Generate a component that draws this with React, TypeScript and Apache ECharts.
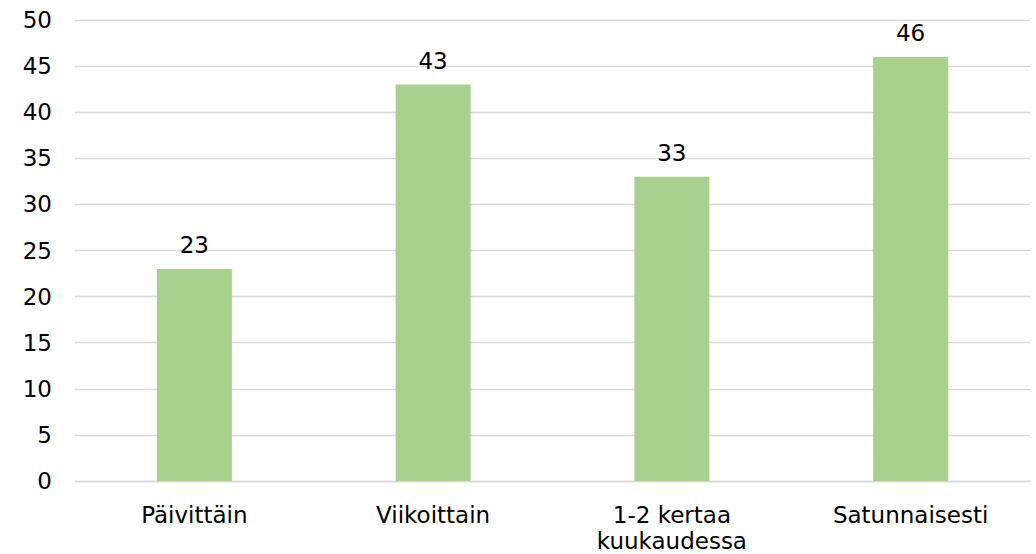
import React, { useEffect, useRef } from "react";
import * as echarts from "echarts";

const categories = ["Päivittäin", "Viikoittain", "1-2 kertaa\nkuukaudessa", "Satunnaisesti"];
const values = [23, 43, 33, 46];

export default function App() {
  const ref = useRef<HTMLDivElement>(null);
  useEffect(() => {
    const chart = echarts.init(ref.current!, null, { renderer: "svg" });
    const font = "DejaVu Sans, Verdana, sans-serif";
    chart.setOption({
      animation: false,
      grid: { left: 75, right: 6, top: 20, bottom: 72, containLabel: false },
      xAxis: {
        type: "category",
        data: categories,
        axisLine: { show: true, lineStyle: { color: "#D9D9D9", width: 1.3 } },
        axisTick: { show: false },
        axisLabel: { color: "#000", fontFamily: font, fontSize: 23, margin: 21, lineHeight: 26 },
      },
      yAxis: {
        type: "value",
        min: 0,
        max: 50,
        interval: 5,
        axisLine: { show: false },
        axisTick: { show: false },
        splitLine: { lineStyle: { color: "#D9D9D9", width: 1.3 } },
        axisLabel: { color: "#000", fontFamily: font, fontSize: 23, margin: 23 },
      },
      series: [
        {
          type: "bar",
          data: values,
          barWidth: 75,
          itemStyle: { color: "#A9D18E" },
          label: {
            show: true,
            position: "top",
            distance: 12,
            color: "#000",
            fontFamily: font,
            fontSize: 23,
          },
        },
      ],
    });
    return () => chart.dispose();
  }, []);
  return <div ref={ref} style={{ width: 1036, height: 554, position: "absolute", left: 0, top: 0, background: "#fff" }} />;
}
